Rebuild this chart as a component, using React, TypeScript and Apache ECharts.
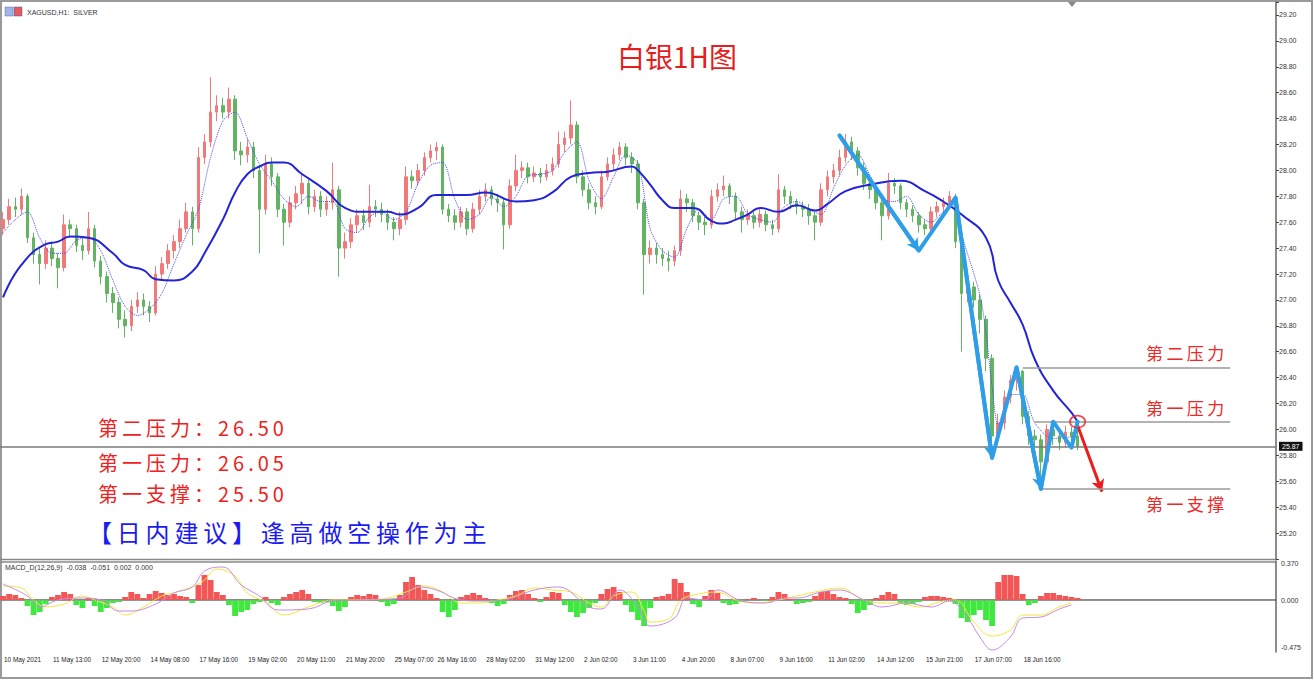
import { useEffect, useRef } from "react";
import * as echarts from "echarts";

const SLOT_COUNT = 209;
const xTickIndex = [0, 8, 16, 24, 32, 40, 48, 56, 64, 71, 79, 87, 95, 103, 111, 119, 127, 135, 143, 151, 159, 167];
const xTickLabels = [
  "10 May 2021", "11 May 13:00", "12 May 20:00", "14 May 08:00", "17 May 16:00", "19 May 02:00",
  "20 May 11:00", "21 May 20:00", "25 May 07:00", "26 May 16:00", "28 May 02:00", "31 May 12:00",
  "2 Jun 02:00", "3 Jun 11:00", "4 Jun 20:00", "8 Jun 07:00", "9 Jun 16:00", "11 Jun 02:00",
  "14 Jun 12:00", "15 Jun 21:00", "17 Jun 07:00", "18 Jun 16:00",
];

// [open, close, low, high]
const candles = [
  [27.55, 27.62, 27.50, 27.68], [27.62, 27.72, 27.58, 27.78], [27.72, 27.70, 27.64, 27.79], [27.70, 27.80, 27.66, 27.86],
  [27.80, 27.48, 27.44, 27.82], [27.48, 27.35, 27.28, 27.52], [27.35, 27.28, 27.12, 27.40], [27.28, 27.40, 27.24, 27.46],
  [27.40, 27.32, 27.26, 27.45], [27.32, 27.25, 27.09, 27.36], [27.25, 27.58, 27.22, 27.66], [27.58, 27.55, 27.48, 27.62],
  [27.55, 27.42, 27.37, 27.58], [27.42, 27.38, 27.31, 27.47], [27.38, 27.55, 27.35, 27.68], [27.55, 27.30, 27.25, 27.58],
  [27.30, 27.18, 27.12, 27.34], [27.18, 27.05, 26.98, 27.22], [27.05, 26.98, 26.90, 27.10], [26.98, 26.85, 26.78, 27.02],
  [26.85, 26.80, 26.71, 26.92], [26.80, 26.95, 26.76, 27.00], [26.95, 27.00, 26.90, 27.06], [27.00, 26.95, 26.88, 27.05],
  [26.95, 26.90, 26.83, 26.99], [26.90, 27.20, 26.88, 27.26], [27.20, 27.28, 27.15, 27.33], [27.28, 27.38, 27.24, 27.43],
  [27.38, 27.45, 27.32, 27.50], [27.45, 27.55, 27.40, 27.62], [27.55, 27.68, 27.52, 27.75], [27.68, 27.55, 27.42, 27.72],
  [27.55, 28.10, 27.52, 28.18], [28.10, 28.22, 28.05, 28.28], [28.22, 28.45, 28.18, 28.72], [28.45, 28.50, 28.38, 28.58],
  [28.50, 28.45, 28.40, 28.56], [28.45, 28.55, 28.40, 28.64], [28.55, 28.15, 28.08, 28.58], [28.15, 28.12, 28.04, 28.22],
  [28.12, 28.18, 28.06, 28.24], [28.18, 28.00, 27.94, 28.22], [28.00, 27.70, 27.36, 28.04], [27.70, 28.05, 27.66, 28.12],
  [28.05, 27.95, 27.88, 28.10], [27.95, 27.70, 27.64, 27.98], [27.70, 27.60, 27.42, 27.74], [27.60, 27.75, 27.56, 27.80],
  [27.75, 27.82, 27.70, 27.88], [27.82, 27.90, 27.74, 27.97], [27.90, 27.72, 27.66, 27.93], [27.72, 27.80, 27.68, 27.85],
  [27.80, 27.70, 27.64, 27.84], [27.70, 27.75, 27.65, 27.80], [27.75, 27.85, 27.70, 28.06], [27.85, 27.40, 27.18, 27.88],
  [27.40, 27.45, 27.32, 27.52], [27.45, 27.58, 27.40, 27.63], [27.58, 27.65, 27.52, 27.70], [27.65, 27.60, 27.54, 27.70],
  [27.60, 27.72, 27.56, 27.89], [27.72, 27.70, 27.64, 27.77], [27.70, 27.66, 27.60, 27.75], [27.66, 27.60, 27.54, 27.70],
  [27.60, 27.55, 27.46, 27.64], [27.55, 27.62, 27.50, 27.68], [27.62, 27.95, 27.58, 28.03], [27.95, 27.92, 27.86, 28.00],
  [27.92, 28.00, 27.88, 28.05], [28.00, 28.10, 27.96, 28.14], [28.10, 28.15, 28.06, 28.20], [28.15, 28.18, 28.08, 28.22],
  [28.18, 27.70, 27.66, 28.20], [27.70, 27.65, 27.60, 27.74], [27.65, 27.60, 27.54, 27.70], [27.60, 27.68, 27.56, 27.72],
  [27.68, 27.55, 27.50, 27.71], [27.55, 27.70, 27.52, 27.75], [27.70, 27.80, 27.66, 27.85], [27.80, 27.85, 27.76, 27.90],
  [27.85, 27.78, 27.73, 27.88], [27.78, 27.75, 27.68, 27.82], [27.75, 27.58, 27.39, 27.78], [27.58, 27.88, 27.55, 27.93],
  [27.88, 28.00, 27.84, 28.12], [28.00, 28.02, 27.94, 28.07], [28.02, 27.95, 27.90, 28.06], [27.95, 27.98, 27.91, 28.03],
  [27.98, 27.95, 27.90, 28.02], [27.95, 28.00, 27.92, 28.05], [28.00, 28.05, 27.96, 28.10], [28.05, 28.20, 28.02, 28.30],
  [28.20, 28.25, 28.14, 28.30], [28.25, 28.35, 28.20, 28.54], [28.35, 27.95, 27.90, 28.38], [27.95, 27.85, 27.80, 28.00],
  [27.85, 27.75, 27.70, 27.90], [27.75, 27.72, 27.66, 27.80], [27.72, 27.95, 27.70, 28.00], [27.95, 28.05, 27.92, 28.10],
  [28.05, 28.12, 28.00, 28.17], [28.12, 28.18, 28.08, 28.22], [28.18, 28.10, 28.04, 28.21], [28.10, 28.05, 27.98, 28.14],
  [28.05, 27.75, 27.70, 28.08], [27.75, 27.35, 27.04, 27.78], [27.35, 27.40, 27.28, 27.46], [27.40, 27.35, 27.28, 27.44],
  [27.35, 27.32, 27.26, 27.40], [27.32, 27.30, 27.22, 27.38], [27.30, 27.38, 27.26, 27.42], [27.38, 27.78, 27.34, 27.85],
  [27.78, 27.75, 27.68, 27.82], [27.75, 27.65, 27.60, 27.78], [27.65, 27.60, 27.54, 27.68], [27.60, 27.58, 27.50, 27.64],
  [27.58, 27.80, 27.55, 27.85], [27.80, 27.85, 27.76, 27.90], [27.85, 27.88, 27.80, 27.96], [27.88, 27.80, 27.74, 27.90],
  [27.80, 27.68, 27.62, 27.83], [27.68, 27.62, 27.52, 27.72], [27.62, 27.65, 27.58, 27.70], [27.65, 27.60, 27.55, 27.68],
  [27.60, 27.66, 27.56, 27.70], [27.66, 27.58, 27.53, 27.69], [27.58, 27.55, 27.50, 27.62], [27.55, 27.85, 27.52, 27.97],
  [27.85, 27.80, 27.74, 27.88], [27.80, 27.75, 27.70, 27.84], [27.75, 27.72, 27.66, 27.78], [27.72, 27.70, 27.64, 27.76],
  [27.70, 27.65, 27.58, 27.74], [27.65, 27.60, 27.46, 27.68], [27.60, 27.85, 27.57, 27.90], [27.85, 27.95, 27.80, 28.00],
  [27.95, 28.00, 27.90, 28.05], [28.00, 28.10, 27.96, 28.16], [28.10, 28.22, 28.06, 28.28], [28.22, 28.15, 28.08, 28.26],
  [28.15, 28.02, 27.96, 28.18], [28.02, 27.90, 27.85, 28.06], [27.90, 27.85, 27.78, 27.94], [27.85, 27.75, 27.70, 27.88],
  [27.75, 27.65, 27.46, 27.78], [27.65, 27.90, 27.62, 27.98], [27.90, 27.88, 27.82, 27.94], [27.88, 27.75, 27.70, 27.90],
  [27.75, 27.70, 27.64, 27.78], [27.70, 27.65, 27.60, 27.73], [27.65, 27.58, 27.52, 27.68], [27.58, 27.55, 27.50, 27.62],
  [27.55, 27.68, 27.52, 27.72], [27.68, 27.72, 27.64, 27.76], [27.72, 27.75, 27.68, 27.79], [27.75, 27.80, 27.70, 27.84],
  [27.80, 27.45, 27.40, 27.82], [27.45, 27.05, 26.60, 27.48], [27.05, 27.10, 26.98, 27.16], [27.10, 27.00, 26.94, 27.14],
  [27.00, 26.85, 26.74, 27.04], [26.85, 26.55, 26.45, 26.88], [26.55, 25.95, 25.81, 26.58], [25.95, 26.05, 25.88, 26.12],
  [26.05, 26.25, 26.00, 26.30], [26.25, 26.38, 26.20, 26.42], [26.38, 26.45, 26.30, 26.48], [26.45, 26.10, 26.04, 26.46],
  [26.10, 25.95, 25.88, 26.14], [25.95, 25.92, 25.84, 26.00], [25.92, 25.75, 25.63, 25.96], [25.75, 26.00, 25.72, 26.04],
  [26.00, 25.95, 25.88, 26.04], [25.95, 25.90, 25.84, 26.00], [25.90, 25.98, 25.86, 26.03], [25.98, 25.95, 25.88, 26.02],
  [25.95, 25.87, 25.84, 26.05],
];

const slowMA = [
  [0, 27.02], [3, 27.27], [7, 27.43], [9, 27.45], [11, 27.49], [14, 27.48], [18, 27.36], [20, 27.27], [23, 27.23],
  [25, 27.16], [28, 27.15], [31, 27.22], [33, 27.36], [36, 27.62], [38, 27.83], [40, 27.97], [42, 28.03], [44, 28.06],
  [46, 28.06], [49, 27.97], [53, 27.84], [56, 27.71], [59, 27.68], [63, 27.68], [65, 27.66], [68, 27.71], [71, 27.81],
  [76, 27.81], [79, 27.83], [84, 27.76], [87, 27.77], [90, 27.83], [93, 27.95], [96, 27.98], [99, 27.99], [103, 28.03],
  [104, 28.0], [106, 27.89], [108, 27.77], [110, 27.71], [113, 27.71], [116, 27.61], [118, 27.59], [120, 27.62],
  [122, 27.66], [124, 27.71], [127, 27.68], [130, 27.73], [133, 27.69], [135, 27.74], [138, 27.84], [142, 27.89],
  [147, 27.92], [151, 27.84], [154, 27.76], [157, 27.66], [161, 27.48], [163, 27.15], [165, 26.98], [167, 26.81],
  [169, 26.54], [172, 26.3], [175, 26.13], [176, 26.06],
];

const fastMA = [
  [0, 27.52], [2, 27.62], [4, 27.68], [6, 27.48], [8, 27.36], [10, 27.36], [12, 27.46], [14, 27.48], [16, 27.38],
  [18, 27.15], [20, 26.95], [22, 26.88], [24, 26.93], [26, 27.05], [28, 27.28], [30, 27.5], [32, 27.7], [34, 28.1],
  [36, 28.38], [38, 28.45], [40, 28.25], [42, 28.05], [44, 27.92], [46, 27.78], [48, 27.72], [50, 27.8], [52, 27.76],
  [54, 27.76], [56, 27.55], [58, 27.52], [60, 27.64], [62, 27.68], [64, 27.62], [66, 27.68], [68, 27.9], [70, 28.04],
  [72, 28.06], [74, 27.78], [76, 27.62], [78, 27.66], [80, 27.8], [82, 27.72], [84, 27.8], [86, 27.96], [88, 27.97],
  [90, 28.0], [92, 28.14], [94, 28.22], [96, 27.92], [98, 27.78], [100, 27.95], [102, 28.12], [104, 28.05], [106, 27.55],
  [108, 27.38], [110, 27.33], [112, 27.55], [114, 27.7], [116, 27.62], [118, 27.78], [120, 27.8], [122, 27.66],
  [124, 27.62], [126, 27.6], [128, 27.72], [130, 27.76], [132, 27.7], [134, 27.66], [136, 27.86], [138, 28.04],
  [140, 28.12], [142, 27.96], [144, 27.78], [146, 27.76], [148, 27.8], [150, 27.66], [152, 27.6], [154, 27.68],
  [156, 27.74], [157, 27.51], [160, 27.04], [161, 26.74], [162, 26.33], [163, 26.04], [165, 26.27], [167, 26.27],
  [169, 26.05], [172, 25.93], [176, 25.95],
];

const macdHist = [
  0.04, 0.06, 0.05, 0.02, -0.06, -0.15, -0.12, -0.04, 0.03, 0.05, 0.08, 0.06, -0.05, -0.08, 0.02, -0.06, -0.12, -0.08,
  -0.03, -0.02, 0.03, 0.08, 0.06, 0.02, 0.06, 0.09, 0.07, 0.05, 0.06, 0.04, 0.03, -0.03, 0.15, 0.25, 0.2, 0.08, 0.05,
  -0.05, -0.16, -0.12, -0.1, -0.04, -0.02, 0.03, -0.03,
  -0.05, 0.03, 0.06, 0.08, 0.1, 0.06, -0.02, -0.03, -0.02, -0.06, -0.11, -0.07, 0.03, 0.05, 0.04, 0.06, 0.05, -0.02,
  -0.06, -0.04, 0.05, 0.18, 0.23, 0.15, 0.1, 0.06, 0.02, -0.12, -0.17, -0.1, 0.03, 0.05, 0.07, 0.05, 0.02, -0.03, -0.06,
  -0.04, 0.05, 0.09, 0.1, 0.06, 0.02,
  -0.02, 0.03, 0.08, 0.07, -0.05, -0.12, -0.17, -0.13, -0.08, -0.03, 0.06, 0.11, 0.13, 0.08, -0.05, -0.12, -0.2, -0.26,
  -0.08, 0.03, 0.04, 0.06, 0.21, 0.17, 0.08, -0.04, -0.07, 0.04, 0.1, 0.07, -0.03, -0.05, -0.04, -0.02, 0.01, 0.02, 0.0,
  -0.01, 0.03, 0.08, 0.06, 0.01,
  -0.04, -0.03, -0.02, 0.04, 0.08, 0.09, 0.06, 0.03, 0.02, -0.04, -0.13, -0.1, -0.05, 0.02, 0.05, 0.08, 0.06, -0.03,
  -0.05, -0.04, -0.02, 0.03, 0.04, 0.04, 0.03, 0.02, -0.04, -0.18, -0.22, -0.15, -0.1, -0.2, -0.26, 0.18, 0.25, 0.25,
  0.24, 0.06, -0.05, -0.03, 0.04, 0.07, 0.07, 0.05, 0.04, 0.03, 0.02,
];

const macdYellow = [
  [0, 0.14], [3, 0.12], [5, 0.0], [7, -0.07], [10, -0.04], [13, 0.04], [15, 0.0], [18, -0.07], [20, -0.15], [23, -0.07],
  [26, 0.04], [29, 0.09], [32, 0.16], [33, 0.2], [35, 0.31], [38, 0.24], [40, 0.07], [43, -0.02], [46, -0.15],
  [50, -0.07], [54, 0.0], [58, 0.0], [63, 0.02], [66, 0.08], [69, 0.14], [72, 0.08], [75, -0.03], [78, -0.03], [81, 0.0],
  [84, 0.04], [87, 0.12], [90, 0.1], [93, 0.08], [96, -0.03], [98, -0.07], [100, 0.04], [103, 0.08], [105, -0.11],
  [106, -0.22], [109, -0.19], [111, 0.0], [114, 0.06], [117, 0.08], [120, 0.0], [123, -0.03], [127, 0.0], [130, 0.04],
  [133, 0.08], [137, 0.12], [141, 0.0], [144, -0.03], [147, -0.03], [150, -0.07], [154, -0.01], [156, 0.0],
  [159, -0.22], [162, -0.36], [165, -0.3], [167, -0.15], [170, -0.15], [173, -0.07], [175, -0.03],
];

const macdViolet = [
  [0, 0.16], [4, 0.04], [6, -0.07], [9, 0.0], [13, 0.02], [16, 0.0], [19, -0.11], [21, -0.11], [25, -0.04], [28, 0.07],
  [31, 0.13], [33, 0.29], [36, 0.33], [39, 0.15], [42, 0.04], [45, -0.1], [50, -0.09], [54, -0.01], [59, 0.0], [65, 0.02],
  [68, 0.13], [71, 0.1], [75, 0.0], [78, -0.01], [82, 0.0], [87, 0.1], [91, 0.13], [96, -0.07], [98, -0.09], [101, 0.1],
  [104, -0.07], [106, -0.26], [110, -0.18], [112, 0.02], [115, 0.0], [117, 0.1], [121, -0.01], [125, -0.03], [128, 0.02],
  [130, 0.02], [134, 0.08], [137, 0.1], [141, 0.0], [144, -0.07], [148, -0.03], [152, -0.07], [155, -0.01], [158, -0.18],
  [160, -0.37], [162, -0.5], [165, -0.37], [167, -0.18], [170, -0.17], [173, -0.09], [175, -0.05],
];

const zigzag = [
  [137, 28.27], [150, 27.38], [156, 27.79], [162, 25.78], [166, 26.48], [170, 25.54], [172, 26.06], [175, 25.86], [176, 26.06],
];
const zigzagArrowLegs = [[0, 1], [2, 3], [4, 5]];

const currentPrice = 25.87;
const levelNames = ["第二压力", "第一压力", "第一支撑"];
const levelValues = [26.48, 26.06, 25.54];
const levelStart = [167, 169, 170];
const levelEnd = 201;
const arrowFrom = [176, 26.03];
const arrowTo = [180, 25.52];
const circleAt = [176, 26.06];

const titleText = "白银1H图";
const noteLines = ["第二压力：26.50", "第一压力：26.05", "第一支撑：25.50"];
const adviceText = "【日内建议】逢高做空操作为主";
const symbolHeader = "XAGUSD,H1:  SILVER";
const macdHeader = "MACD_D(12,26,9)  -0.038  -0.051  0.002  0.000";

const CJK = '"Noto Sans CJK SC", sans-serif';
const SMALL = '"Liberation Sans", Arial, sans-serif';
const spread = (s: string) => s.split("").join("\u2009");

export default function App() {
  const ref = useRef<HTMLDivElement>(null);

  useEffect(() => {
    if (!ref.current) return;
    const chart = echarts.init(ref.current, undefined, { renderer: "svg" });
    const cats = Array.from({ length: SLOT_COUNT }, (_, i) => String(i));
    const tickSet = new Set(xTickIndex);
    const labelOf = (idx: number) => {
      const k = xTickIndex.indexOf(idx);
      return k >= 0 ? xTickLabels[k] : "";
    };

    const levelLines = levelValues.map((v, k) => [
      {
        coord: [levelStart[k], v],
        label: {
          show: true,
          formatter: spread(levelNames[k]),
          position: k === 2 ? "insideEndBottom" : "insideEndTop",
          color: "#ec2a2a",
          fontSize: 17,
          fontFamily: CJK,
          distance: 6,
        },
      },
      { coord: [levelEnd, v] },
    ]);

    const arrowLegs = zigzagArrowLegs.map(([a, b]) => [
      { coord: zigzag[a], symbol: "none" },
      { coord: zigzag[b], symbol: "arrow" },
    ]);

    const option: any = {
      animation: false,
      backgroundColor: "#ffffff",
      grid: [
        { left: 0, width: 1276, top: 2, height: 557 },
        { left: 0, width: 1276, top: 561, height: 91 },
      ],
      xAxis: [
        { type: "category", gridIndex: 0, data: cats, show: false, boundaryGap: true },
        {
          type: "category",
          gridIndex: 1,
          data: cats,
          boundaryGap: true,
          axisLine: { lineStyle: { color: "#666", width: 1.5 } },
          axisTick: {
            alignWithLabel: true,
            interval: (i: number) => tickSet.has(i),
            length: 6,
            lineStyle: { color: "#444" },
          },
          axisLabel: {
            interval: (i: number) => tickSet.has(i),
            formatter: (_v: string, i: number) => labelOf(i),
            align: "left",
            padding: [0, 0, 0, 1],
            fontSize: 6.4,
            fontFamily: SMALL,
            color: "#222",
            margin: 4,
          },
          splitLine: { show: false },
        },
      ],
      yAxis: [
        {
          type: "value",
          gridIndex: 0,
          position: "right",
          min: 25.0,
          max: 29.3,
          interval: 0.2,
          axisLine: { show: true, lineStyle: { color: "#666", width: 1.5 } },
          axisTick: { show: true, length: 3, lineStyle: { color: "#444" } },
          axisLabel: {
            fontSize: 7,
            fontFamily: SMALL,
            color: "#333",
            margin: 3,
            formatter: (v: number) => (v < 25.1 || v > 29.25 ? "" : v.toFixed(2)),
          },
          splitLine: { show: false },
        },
        {
          type: "value",
          gridIndex: 1,
          position: "right",
          min: -0.52,
          max: 0.39,
          interval: 0.005,
          axisLine: { show: true, lineStyle: { color: "#666", width: 1.5 } },
          axisTick: { show: false },
          axisLabel: {
            fontSize: 7,
            fontFamily: SMALL,
            color: "#333",
            margin: 5,
            formatter: (v: number) => {
              if (Math.abs(v - 0.37) < 1e-4) return "0.370";
              if (Math.abs(v) < 1e-4) return "0.000";
              if (Math.abs(v + 0.475) < 1e-4) return "-0.475";
              return "";
            },
          },
          splitLine: { show: false },
        },
      ],
      series: [
        {
          type: "candlestick",
          xAxisIndex: 0,
          yAxisIndex: 0,
          data: candles,
          barWidth: 3,
          itemStyle: {
            color: "#f07a7a",
            color0: "#62b462",
            borderColor: "#f07a7a",
            borderColor0: "#62b462",
            borderWidth: 1,
          },
          markLine: {
            silent: true,
            symbol: ["none", "none"],
            data: [{ yAxis: currentPrice }],
            lineStyle: { color: "#7a7a7a", width: 1.5, type: "solid" },
            label: {
              show: true,
              position: "end",
              formatter: currentPrice.toFixed(2),
              backgroundColor: "#111",
              color: "#fff",
              fontSize: 7,
              fontFamily: SMALL,
              padding: [1, 3],
              distance: 3,
            },
          },
        },
        {
          type: "line",
          xAxisIndex: 0,
          yAxisIndex: 0,
          data: fastMA,
          smooth: 0.3,
          showSymbol: false,
          lineStyle: { color: "#4a4ae8", width: 1, type: "dotted" },
        },
        {
          type: "line",
          xAxisIndex: 0,
          yAxisIndex: 0,
          data: slowMA,
          smooth: 0.5,
          showSymbol: false,
          lineStyle: { color: "#2323d8", width: 2 },
        },
        {
          type: "line",
          xAxisIndex: 0,
          yAxisIndex: 0,
          data: zigzag,
          showSymbol: false,
          z: 5,
          lineStyle: { color: "#2f9ee8", width: 4, cap: "round", join: "round" },
          markLine: {
            silent: true,
            symbolSize: [10, 12],
            label: { show: false },
            lineStyle: { color: "#2f9ee8", width: 4, type: "solid" },
            data: [
              ...arrowLegs,
              [
                { coord: arrowFrom, symbol: "none" },
                { coord: arrowTo, symbol: "arrow", lineStyle: { color: "#ee1c1c", width: 3, type: "solid" } },
              ],
            ],
          },
        },
        {
          type: "scatter",
          xAxisIndex: 0,
          yAxisIndex: 0,
          data: [circleAt],
          symbol: "circle",
          symbolSize: [15, 12],
          z: 6,
          itemStyle: { color: "rgba(0,0,0,0)", borderColor: "#e8222a", borderWidth: 1.8 },
          markLine: {
            silent: true,
            symbol: ["none", "none"],
            label: { show: false },
            lineStyle: { color: "#9a9a9a", width: 1.5, type: "solid" },
            data: levelLines,
          },
        },
        {
          type: "bar",
          xAxisIndex: 1,
          yAxisIndex: 1,
          data: macdHist,
          barCategoryGap: "5%",
          itemStyle: { color: (p: any) => (p.value >= 0 ? "#f25656" : "#3ee83e") },
          markLine: {
            silent: true,
            symbol: ["none", "none"],
            label: { show: false },
            data: [{ yAxis: 0 }],
            lineStyle: { color: "#9a9a9a", width: 1, type: "dotted" },
          },
        },
        {
          type: "line",
          xAxisIndex: 1,
          yAxisIndex: 1,
          data: macdYellow,
          smooth: 0.4,
          showSymbol: false,
          lineStyle: { color: "#f4e63a", width: 1 },
        },
        {
          type: "line",
          xAxisIndex: 1,
          yAxisIndex: 1,
          data: macdViolet,
          smooth: 0.4,
          showSymbol: false,
          lineStyle: { color: "#c88ae8", width: 1 },
        },
      ],
      graphic: [
        { type: "rect", shape: { x: 1, y: 1, width: 1311, height: 677 }, style: { fill: "none", stroke: "#9a9a9a", lineWidth: 2 }, silent: true },
        { type: "line", shape: { x1: 0, y1: 559.5, x2: 1276, y2: 559.5 }, style: { stroke: "#888", lineWidth: 1.5 }, silent: true },
        { type: "line", shape: { x1: 0, y1: 562, x2: 1276, y2: 562 }, style: { stroke: "#888", lineWidth: 1.5 }, silent: true },
        { type: "polygon", shape: { points: [[1068, 2], [1076, 2], [1072, 7]] }, style: { fill: "#888" }, silent: true },
        { type: "rect", shape: { x: 5, y: 7, width: 8, height: 9 }, style: { fill: "#9fb4e8", stroke: "#5a6fb0", lineWidth: 0.5 }, silent: true },
        { type: "rect", shape: { x: 14, y: 7, width: 8, height: 9 }, style: { fill: "#e45b5b", stroke: "#3a54c0", lineWidth: 0.5 }, silent: true },
        { type: "text", x: 27, y: 12, style: { text: symbolHeader, fontSize: 7, fontFamily: SMALL, fill: "#333", verticalAlign: "middle" }, silent: true },
        { type: "text", x: 5, y: 567, style: { text: macdHeader, fontSize: 7, fontFamily: SMALL, fill: "#333", verticalAlign: "middle" }, silent: true },
        { type: "text", x: 677, y: 56, style: { text: titleText, fontSize: 28, fontFamily: CJK, fill: "#e41d1d", align: "center", verticalAlign: "middle" }, silent: true },
        ...noteLines.map((t, k) => ({
          type: "text",
          x: 98,
          y: [427, 462, 493][k],
          style: { text: spread(t), fontSize: 20, fontFamily: CJK, fill: "#ee2222", verticalAlign: "middle" },
          silent: true,
        })),
        { type: "text", x: 88, y: 531, style: { text: spread(adviceText), fontSize: 24, fontFamily: CJK, fill: "#1c1cf0", verticalAlign: "middle" }, silent: true },
      ],
    };

    chart.setOption(option);
    return () => chart.dispose();
  }, []);

  return (
    <div
      ref={ref}
      style={{ position: "fixed", left: 0, top: 0, width: 1314, height: 680, background: "#fff" }}
    />
  );
}
